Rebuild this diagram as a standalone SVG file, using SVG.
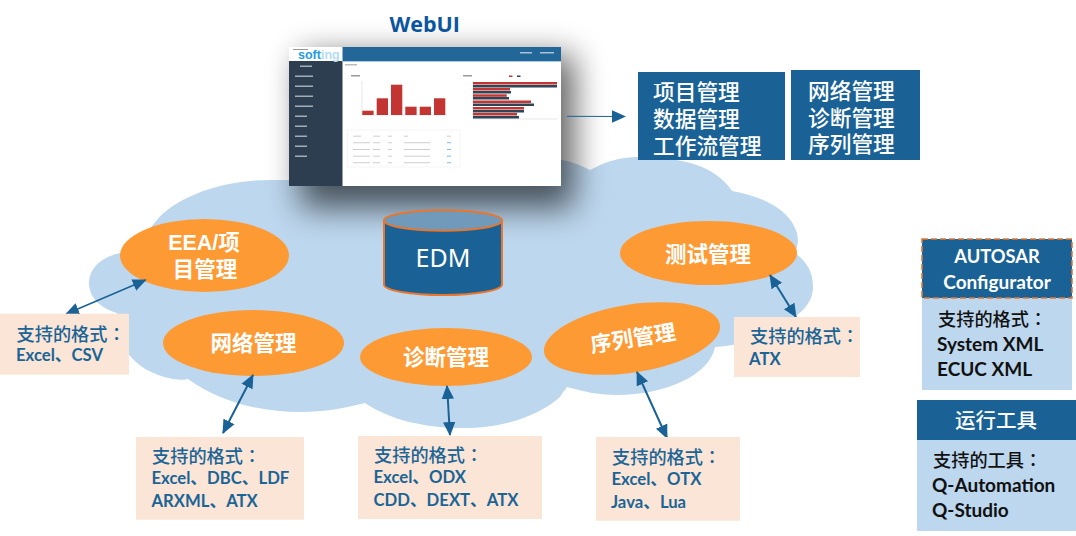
<svg xmlns="http://www.w3.org/2000/svg" width="1076" height="536" viewBox="0 0 1076 536">
<style>
.cjk{font-family:"Noto Sans CJK SC","Noto Sans",sans-serif}
.fmt{font-family:"Noto Sans CJK TC","Noto Sans CJK SC",sans-serif;font-size:18.2px;font-weight:500;fill:#1a6496}
.blk{font-family:"Noto Sans CJK TC","Noto Sans CJK SC",sans-serif;font-size:18.2px;font-weight:500;fill:#111}
.val{font-family:Lato,"Noto Sans CJK SC",sans-serif;font-size:16.7px;font-weight:700;fill:#1a6496}
.valb{font-family:Lato,"Noto Sans CJK SC",sans-serif;font-size:19px;font-weight:700;fill:#111}
.ell{fill:#fe9a34}
.elt{font-family:"Liberation Sans","Noto Sans CJK SC",sans-serif;font-size:21.5px;font-weight:700;fill:#fff;text-anchor:middle}
.peach{fill:#fbe5d6}
.dk{fill:#1a6296}
.lt{fill:#bdd7ee}
.mn{font-family:"Noto Sans CJK SC",sans-serif;font-size:21.7px;font-weight:500;fill:#fff}
.hd{font-family:Lato,"Noto Sans CJK SC",sans-serif;font-size:19px;font-weight:700;fill:#fff;text-anchor:middle}
.conn{stroke:#1a6296;fill:none}
.b{fill:#c23531}
.n{fill:#2f4554}
.s{fill:#a3adb8}
.t{fill:#c9c9c9}
</style>
<defs>
<marker id="ah" markerUnits="userSpaceOnUse" markerWidth="16" markerHeight="14" viewBox="0 0 16 14" refX="13" refY="7" orient="auto-start-reverse"><path d="M0,0.8 L14,7 L0,13.2 Z" fill="#1a6296"/></marker>
<filter id="blur" x="-30%" y="-50%" width="160%" height="200%"><feGaussianBlur stdDeviation="16"/></filter>
<filter id="soft" x="-2%" y="-2%" width="104%" height="104%"><feGaussianBlur stdDeviation="0.4"/></filter>
</defs>

<g id="cloud"><path class="lt" d="M120,253 C97,258 89,272 89,283 C89,297 100,308 117,313 C118,345 130,370 173,379 C180,380 184,380 188,379 C220,402 260,412 300,412 C325,412 345,408 365,403 C390,420 425,428 463,428 C505,428 540,415 560,397 C563,392 565,390 567,387 C585,392 600,395 617,395 C665,395 710,375 715,347 C745,345 780,335 797,315 C808,307 813,297 813,287 C813,272 807,262 795,253 C799,243 798,238 797,233 C790,210 765,197 732,191 C715,165 680,157 638,157 C620,157 605,162 590,170 C575,162 560,158 540,158 L350,178 C320,180 300,180 270,180 C220,180 175,198 157,220 C145,235 130,248 120,253 Z"/></g>

<g id="webui">
<text x="389.500" y="32" font-family="'Open Sans',sans-serif" font-size="21.500" font-weight="700" fill="#0b57a4">WebUI</text>
<rect x="300" y="55" width="274" height="153" fill="#000" opacity=".62" filter="url(#blur)"/>
<rect x="289" y="47" width="272" height="139" fill="#fff"/>
<rect x="289" y="61" width="53.500" height="125" fill="#2d3e50"/>
<rect x="342.500" y="47" width="218.500" height="14" fill="#236799"/>
<rect x="342.500" y="61" width="218.500" height="1" fill="#a9cde6"/>
<text x="298" y="59" font-family="'Liberation Sans',sans-serif" font-size="12.500" font-weight="700" fill="#1f9be0">soft<tspan fill="#b5dcf4">ing</tspan></text>
<g filter="url(#soft)">
<rect x="293" y="49" width="15" height="1" fill="#999"/>
<g class="s">
<rect x="300" y="65.500" width="12" height="1.500"/><rect x="295" y="75.500" width="18" height="1.500"/><rect x="295" y="85.500" width="18" height="1.500"/><rect x="295" y="95.500" width="18" height="1.500"/><rect x="295" y="105.500" width="18" height="1.500"/><rect x="295" y="115.500" width="12" height="1.500"/><rect x="295" y="125.500" width="12" height="1.500"/><rect x="295" y="135.500" width="12" height="1.500"/><rect x="295" y="145.500" width="12" height="1.500"/><rect x="295" y="155.500" width="12" height="1.500"/>
</g>
<rect x="520" y="52" width="12" height="1.500" fill="#a8c4da"/><rect x="540" y="52" width="14" height="1.500" fill="#a8c4da"/>
<rect x="345" y="64" width="12" height="1.500" fill="#bbb"/>
<rect x="351" y="75" width="9" height="1.500" fill="#999"/><rect x="463" y="75" width="9" height="1.500" fill="#999"/>
<path d="M362,81 V115 H447 M473,81 V119 H557" fill="none" stroke="#ddd" stroke-width=".7"/>
<g class="b">
<rect x="362.300" y="110.700" width="11.300" height="4.300"/><rect x="376.700" y="98.300" width="11.300" height="16.700"/><rect x="391" y="84.700" width="11.300" height="30.300"/><rect x="405.300" y="106.700" width="11.300" height="8.300"/><rect x="419.700" y="106.700" width="11.300" height="8.300"/><rect x="434" y="98.300" width="11.300" height="16.700"/>
<rect x="473" y="82" width="84" height="2.500"/><rect x="473" y="88" width="37" height="2.500"/><rect x="473" y="94.300" width="33.700" height="2.500"/><rect x="473" y="100.500" width="58" height="2.500"/><rect x="473" y="107" width="51" height="2.500"/><rect x="473" y="113" width="44" height="2.500"/>
<rect x="509" y="75.500" width="3.500" height="1.500"/>
</g>
<g class="n">
<rect x="473" y="85" width="84" height="2.500"/><rect x="473" y="91" width="38" height="2.500"/><rect x="473" y="97" width="36" height="2.500"/><rect x="473" y="103.500" width="61" height="2.500"/><rect x="473" y="110" width="51" height="2.500"/><rect x="473" y="116" width="46" height="2.500"/>
<rect x="517" y="75.500" width="3.500" height="1.500"/>
</g>
<rect x="347.700" y="130" width="112.300" height="37" fill="none" stroke="#f0f0f0" stroke-width=".7"/>
<g class="t">
<rect x="353" y="135.700" width="8" height=".9"/><rect x="373" y="135.700" width="7" height=".9"/><rect x="388" y="135.700" width="4" height=".9"/><rect x="404" y="135.700" width="4" height=".9"/><rect x="447" y="135.700" width="4" height=".9"/>
<rect x="353" y="142.300" width="17" height=".9"/><rect x="373" y="142.300" width="7" height=".9"/><rect x="388" y="142.300" width="4" height=".9"/><rect x="404" y="142.300" width="26" height=".9"/><rect x="447" y="142.300" width="4" height=".9" fill="#6db6ea"/>
<rect x="353" y="149" width="17" height=".9"/><rect x="373" y="149" width="7" height=".9"/><rect x="388" y="149" width="4" height=".9"/><rect x="404" y="149" width="26" height=".9"/><rect x="447" y="149" width="4" height=".9" fill="#6db6ea"/>
<rect x="353" y="155.700" width="17" height=".9"/><rect x="373" y="155.700" width="7" height=".9"/><rect x="388" y="155.700" width="4" height=".9"/><rect x="404" y="155.700" width="26" height=".9"/><rect x="447" y="155.700" width="4" height=".9" fill="#6db6ea"/>
<rect x="353" y="162.300" width="17" height=".9"/><rect x="373" y="162.300" width="7" height=".9"/><rect x="388" y="162.300" width="4" height=".9"/><rect x="404" y="162.300" width="26" height=".9"/><rect x="447" y="162.300" width="4" height=".9" fill="#6db6ea"/>
</g>
</g>
</g>

<g id="menu1"><rect class="dk" x="638" y="72" width="147" height="88"/>
<text class="mn" x="653" y="100">项目管理</text><text class="mn" x="653" y="127">数据管理</text><text class="mn" x="653" y="153.500">工作流管理</text></g>
<g id="menu2"><rect class="dk" x="791" y="70" width="129" height="90"/>
<text class="mn" x="808" y="99">网络管理</text><text class="mn" x="808" y="125.500">诊断管理</text><text class="mn" x="808" y="152">序列管理</text></g>

<g id="edm">
<path d="M384,220.500 V284.500 A59,10.500 0 0 0 502,284.500 V220.500 Z" fill="#1a6296" stroke="#e8762d" stroke-width="2"/>
<ellipse cx="443" cy="220.500" rx="59" ry="10.300" fill="#7199b9" stroke="#e8762d" stroke-width="2"/>
<text x="443" y="267" font-family="'Noto Sans',sans-serif" font-size="25" fill="#fff" text-anchor="middle">EDM</text>
</g>

<g id="eea"><ellipse class="ell" cx="204.500" cy="255.500" rx="84.500" ry="36.500"/>
<text class="elt" x="204" y="250">EEA/项</text><text class="elt" x="205" y="277">目管理</text></g>
<g id="network"><ellipse class="ell" cx="253.500" cy="343" rx="90.500" ry="33"/><text class="elt" x="253.500" y="351">网络管理</text></g>
<g id="diagnosis"><ellipse class="ell" cx="446" cy="357" rx="86" ry="29"/><text class="elt" x="446" y="365">诊断管理</text></g>
<g id="test"><ellipse class="ell" cx="708.500" cy="253" rx="88.500" ry="32"/><text class="elt" x="708" y="262">测试管理</text></g>
<g id="sequence"><ellipse class="ell" cx="632" cy="338.500" rx="89" ry="34" transform="rotate(-9 632 338.500)"/><text class="elt" x="633" y="346" transform="rotate(-9 633 338)">序列管理</text></g>

<g id="connectors" class="conn">
<line x1="145.700" y1="280" x2="66" y2="314" stroke-width="1.500" marker-start="url(#ah)" marker-end="url(#ah)"/>
<line x1="253" y1="375" x2="223" y2="433" stroke-width="2" marker-start="url(#ah)" marker-end="url(#ah)"/>
<line x1="447" y1="386" x2="450" y2="435" stroke-width="2" marker-start="url(#ah)" marker-end="url(#ah)"/>
<line x1="770" y1="275" x2="796" y2="317" stroke-width="2" marker-start="url(#ah)" marker-end="url(#ah)"/>
<line x1="637" y1="372" x2="667" y2="438" stroke-width="2" marker-start="url(#ah)" marker-end="url(#ah)"/>
<line x1="567" y1="116.300" x2="625" y2="116.500" stroke-width="1" marker-end="url(#ah)"/>
</g>

<g id="fmt-eea"><rect class="peach" x="0" y="313.700" width="129" height="61"/>
<text class="fmt" x="16.500" y="341">支持的格式：</text><text class="val" x="16" y="361">Excel、CSV</text></g>
<g id="fmt-network"><rect class="peach" x="136" y="437" width="168" height="82.700"/>
<text class="fmt" x="152" y="463">支持的格式：</text><text class="val" x="151.500" y="484">Excel、DBC、LDF</text><text class="val" x="151.500" y="507">ARXML、ATX</text></g>
<g id="fmt-diagnosis"><rect class="peach" x="358" y="436" width="184" height="83"/>
<text class="fmt" x="374" y="462">支持的格式：</text><text class="val" x="373.500" y="483">Excel、ODX</text><text class="val" x="373.500" y="506">CDD、DEXT、ATX</text></g>
<g id="fmt-sequence"><rect class="peach" x="596" y="437" width="144" height="83.700"/>
<text class="fmt" x="612" y="464">支持的格式：</text><text class="val" x="611.500" y="485">Excel、OTX</text><text class="val" x="611" y="508">Java、Lua</text></g>
<g id="fmt-test"><rect class="peach" x="734" y="317" width="126" height="60"/>
<text class="fmt" x="750" y="343">支持的格式：</text><text class="val" x="749" y="365">ATX</text></g>

<g id="autosar"><rect class="lt" x="922" y="298" width="150" height="92"/>
<rect class="dk" x="922" y="239" width="150" height="59" stroke="#e8762d" stroke-width="1.500" stroke-dasharray="6 3"/>
<text class="hd" x="997" y="263" style="font-size:18.3px">AUTOSAR</text><text class="hd" x="997" y="289">Configurator</text>
<text class="blk" x="938" y="326">支持的格式：</text><text class="valb" x="937" y="351">System XML</text><text class="valb" x="937" y="376">ECUC XML</text></g>
<g id="runtime"><rect class="lt" x="917" y="440" width="159" height="91"/>
<rect class="dk" x="917" y="400" width="159" height="40"/>
<text class="cjk" x="996" y="428" font-size="20.500" font-weight="500" fill="#fff" text-anchor="middle">运行工具</text>
<text class="blk" x="933" y="466.500">支持的工具：</text><text class="valb" x="932" y="492">Q-Automation</text><text class="valb" x="932" y="516.500">Q-Studio</text></g>
</svg>
